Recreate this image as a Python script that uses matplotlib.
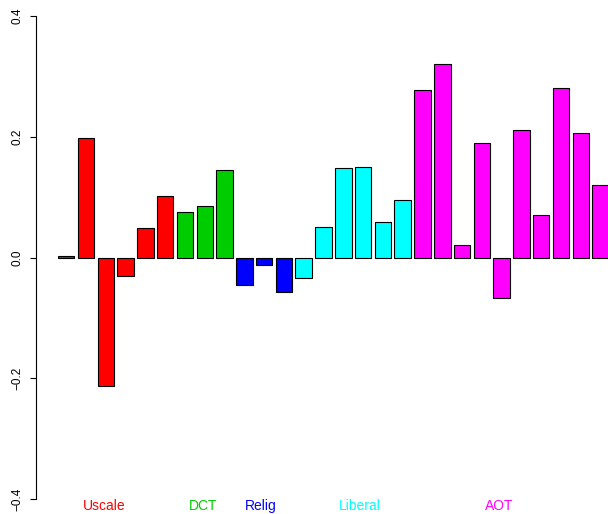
import matplotlib.pyplot as plt

# valores de cada barra, por grupo
uscale = [0.002, 0.198, -0.212, -0.031, 0.049, 0.102]
dct = [0.076, 0.086, 0.145]
relig = [-0.046, -0.013, -0.057]
liberal = [-0.034, 0.050, 0.149, 0.150, 0.059, 0.095]
aot = [0.278, 0.321, 0.021, 0.190, -0.067, 0.211, 0.071, 0.281, 0.207, 0.121]

grupos = ["Uscale", "DCT", "Relig", "Liberal", "AOT"]
colores = ["#FF0000", "#00CD00", "#0000FF", "#00FFFF", "#FF00FF"]
series = [uscale, dct, relig, liberal, aot]

# posiciones de las etiquetas de grupo (unidades del eje x)
pos_etiquetas = [3.02, 8.99, 12.51, 18.51, 26.98]

valores = []
col_barras = []
for s, c in zip(series, colores):
    valores.extend(s)
    col_barras.extend([c] * len(s))

x = [0.7 + 1.2 * i for i in range(len(valores))]

plt.rcParams['font.family'] = ['Liberation Sans', 'DejaVu Sans']

fig = plt.figure(figsize=(6.08, 5.14), dpi=100)
ax = fig.add_axes([36 / 608, 0, 572 / 608, 1])

ax.bar(x, valores, width=1, color=col_barras, edgecolor='black', linewidth=0.8)

ax.set_xlim(-1.134, 33.55)
ax.set_ylim(-0.4244, 0.4265)

for sp in ['top', 'right', 'bottom']:
    ax.spines[sp].set_visible(False)
ax.spines['left'].set_bounds(-0.4, 0.4)
ax.spines['left'].set_linewidth(0.8)
ax.set_xticks([])
ticks = [-0.4, -0.2, 0.0, 0.2, 0.4]
ax.set_yticks(ticks)
ax.set_yticklabels([f"{t:.1f}".replace("-", "\u2212") for t in ticks],
                   rotation=90, va='center', fontsize=8.5)
ax.tick_params(axis='y', length=4.3, width=0.8, pad=5)

for g, c, p in zip(grupos, colores, pos_etiquetas):
    ax.text(p, -0.4177, g, color=c, ha='center', va='baseline', fontsize=10)

fig.savefig("out.png", dpi=100)
